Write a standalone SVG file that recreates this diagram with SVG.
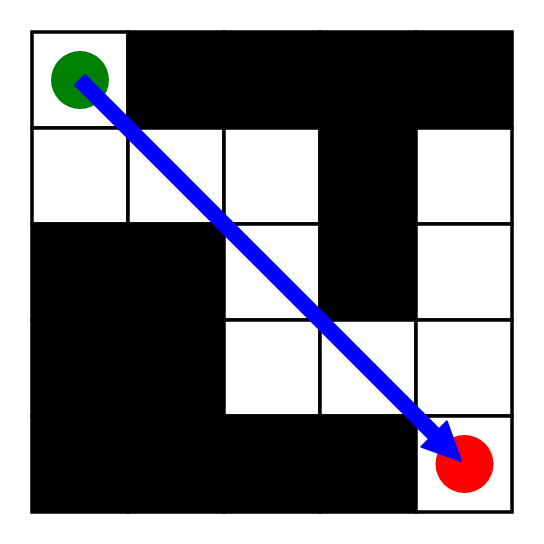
<svg xmlns="http://www.w3.org/2000/svg" width="544" height="544" viewBox="0 0 544 544">
  <style>
    .w { fill: #ffffff; stroke: #000000; stroke-width: 3.5; }
    .b { fill: #000000; stroke: #000000; stroke-width: 3.5; }
    .arrow { fill: #0000ff; stroke: #0000ff; stroke-width: 2; stroke-linejoin: round; }
  </style>
  <rect x="0" y="0" width="544" height="544" fill="#ffffff"/>
  <g id="maze">
    <!-- row 0 -->
    <rect class="w" x="32" y="32" width="96" height="96"/>
    <rect class="b" x="128" y="32" width="96" height="96"/>
    <rect class="b" x="224" y="32" width="96" height="96"/>
    <rect class="b" x="320" y="32" width="96" height="96"/>
    <rect class="b" x="416" y="32" width="96" height="96"/>
    <!-- row 1 -->
    <rect class="w" x="32" y="128" width="96" height="96"/>
    <rect class="w" x="128" y="128" width="96" height="96"/>
    <rect class="w" x="224" y="128" width="96" height="96"/>
    <rect class="b" x="320" y="128" width="96" height="96"/>
    <rect class="w" x="416" y="128" width="96" height="96"/>
    <!-- row 2 -->
    <rect class="b" x="32" y="224" width="96" height="96"/>
    <rect class="b" x="128" y="224" width="96" height="96"/>
    <rect class="w" x="224" y="224" width="96" height="96"/>
    <rect class="b" x="320" y="224" width="96" height="96"/>
    <rect class="w" x="416" y="224" width="96" height="96"/>
    <!-- row 3 -->
    <rect class="b" x="32" y="320" width="96" height="96"/>
    <rect class="b" x="128" y="320" width="96" height="96"/>
    <rect class="w" x="224" y="320" width="96" height="96"/>
    <rect class="w" x="320" y="320" width="96" height="96"/>
    <rect class="w" x="416" y="320" width="96" height="96"/>
    <!-- row 4 -->
    <rect class="b" x="32" y="416" width="96" height="96"/>
    <rect class="b" x="128" y="416" width="96" height="96"/>
    <rect class="b" x="224" y="416" width="96" height="96"/>
    <rect class="b" x="320" y="416" width="96" height="96"/>
    <rect class="w" x="416" y="416" width="96" height="96"/>
  </g>
  <g id="start">
    <circle cx="80" cy="80" r="29" fill="#008000"/>
  </g>
  <g id="goal">
    <circle cx="464.5" cy="464" r="29" fill="#ff0000"/>
  </g>
  <g id="connectors">
    <polygon class="arrow" points="84.95,75.05 439.05,429.15 446.8,421.4 461,461 421.4,446.8 429.15,439.05 75.05,84.95"/>
  </g>
</svg>
